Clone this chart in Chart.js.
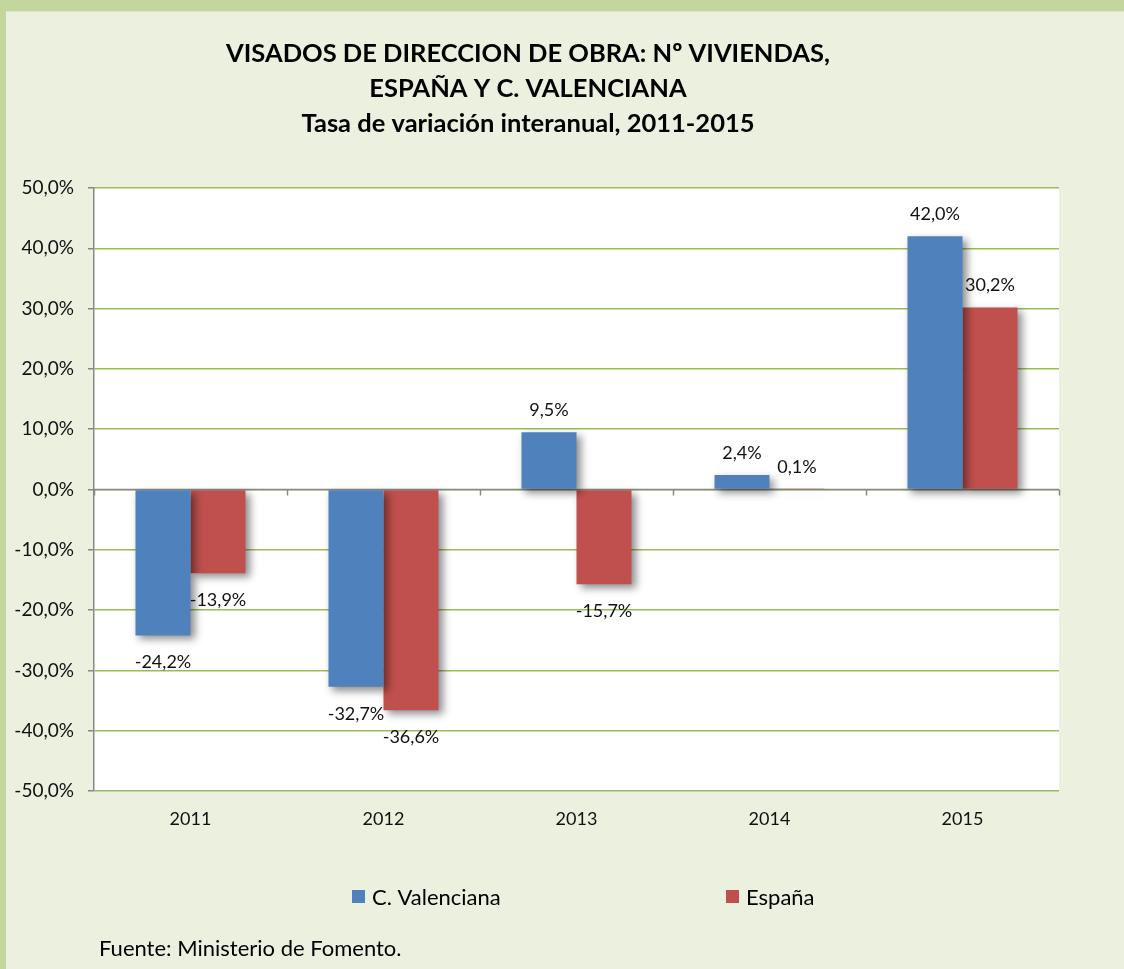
<!DOCTYPE html>
<html lang="es">
<head>
<meta charset="utf-8">
<title>Visados de dirección de obra</title>
<script src="https://cdn.jsdelivr.net/npm/chart.js@4.4.1/dist/chart.umd.min.js"></script>
<style>
    html, body {
        margin: 0;
        padding: 0;
        background: #EBF0DF;
        overflow: hidden;
    }
    #marco {
        width: 1118px;
        height: 958px;
        border-left: 6px solid #C3D69B;
        border-top: 11px solid #C3D69B;
        background: #EBF0DF;
        box-shadow: inset 0 1px 0 #DCE4CC;
    }
    canvas {
        display: block;
    }
</style>
</head>
<body>
<div id="marco">
    <canvas id="visadosChart" width="1118" height="958"></canvas>
</div>
<script>
// Datos del gráfico
const anios = ["2011", "2012", "2013", "2014", "2015"];
const cValenciana = [-24.2, -32.7, 9.5, 2.4, 42.0];
const espana = [-13.9, -36.6, -15.7, 0.1, 30.2];
const ticksY = [-50, -40, -30, -20, -10, 0, 10, 20, 30, 40, 50];

const tituloLineas = [
    "VISADOS DE DIRECCION DE OBRA: Nº VIVIENDAS,",
    "ESPAÑA Y C. VALENCIANA",
    "Tasa de variación interanual, 2011-2015"
];
const fuente = "Fuente: Ministerio de Fomento.";

const AZUL = "#4F81BD";
const ROJO = "#C0504D";
const VERDE = "#9BBB59";
const GRIS = "#878787";
const FUENTE = "Lato, 'Open Sans', sans-serif";

function formatoPct(v) {
    return v.toFixed(1).replace(".", ",") + "%";
}

// Fondo blanco del área de trazado
const fondoArea = {
    id: "fondoArea",
    beforeDraw(chart) {
        const { ctx, chartArea: a } = chart;
        ctx.save();
        ctx.fillStyle = "#FFFFFF";
        ctx.fillRect(a.left, a.top, a.right - a.left, a.bottom - a.top);
        ctx.restore();
    }
};

// Eje en el cero, sombra de las barras y etiquetas de datos
const barrasExtra = {
    id: "barrasExtra",
    beforeDatasetsDraw(chart) {
        const { ctx, chartArea: a, scales } = chart;
        const y0 = scales.y.getPixelForValue(0);
        const mitad = (scales.x.getPixelForValue(1) - scales.x.getPixelForValue(0)) / 2;

        ctx.save();
        ctx.strokeStyle = GRIS;
        ctx.lineWidth = 1.5;
        ctx.beginPath();
        ctx.moveTo(a.left, y0);
        ctx.lineTo(a.right, y0);
        for (let i = 0; i <= anios.length; i++) {
            const x = Math.round(scales.x.getPixelForValue(i) - mitad) + 0.5;
            ctx.moveTo(x, y0);
            ctx.lineTo(x, y0 + 6);
        }
        ctx.stroke();
        ctx.restore();

        // sombra suave como en Excel
        ctx.save();
        ctx.shadowColor = "rgba(0, 0, 0, 0.45)";
        ctx.shadowBlur = 8;
        ctx.shadowOffsetX = 4;
        ctx.shadowOffsetY = 4;
    },
    afterDatasetsDraw(chart) {
        const { ctx } = chart;
        ctx.restore();

        ctx.save();
        ctx.font = "18px " + FUENTE;
        ctx.fillStyle = "#111111";
        ctx.textAlign = "center";
        ctx.textBaseline = "alphabetic";
        chart.data.datasets.forEach((ds, i) => {
            const meta = chart.getDatasetMeta(i);
            meta.data.forEach((bar, j) => {
                const v = ds.data[j];
                const y = v >= 0 ? bar.y - 16 : bar.y + 33;
                ctx.fillText(formatoPct(v), bar.x, y);
            });
        });
        ctx.restore();
    }
};

// Título, leyenda y fuente
const textos = {
    id: "textos",
    afterDraw(chart) {
        const { ctx, chartArea: a } = chart;
        ctx.save();
        ctx.fillStyle = "#000000";

        ctx.font = "bold 25.5px " + FUENTE;
        ctx.textAlign = "center";
        ctx.textBaseline = "alphabetic";
        const base = [51, 86, 121];
        tituloLineas.forEach((t, i) => ctx.fillText(t, 522, base[i]));

        // leyenda
        ctx.font = "22px " + FUENTE;
        ctx.textAlign = "left";
        const posLeyenda = [a.left + 258, a.left + 632];
        chart.data.datasets.forEach((ds, i) => {
            const x = posLeyenda[i];
            ctx.fillStyle = ds.backgroundColor;
            ctx.fillRect(x, 879, 13, 13);
            ctx.fillStyle = "#000000";
            ctx.fillText(ds.label, x + 20, 894);
        });

        ctx.font = "22px " + FUENTE;
        ctx.fillText(fuente, 93, 945);
        ctx.restore();
    }
};

const ctx = document.getElementById("visadosChart").getContext("2d");
new Chart(ctx, {
    type: "bar",
    data: {
        labels: anios,
        datasets: [{
            label: "C. Valenciana",
            data: cValenciana,
            backgroundColor: AZUL,
            borderWidth: 0
        }, {
            label: "España",
            data: espana,
            backgroundColor: ROJO,
            borderWidth: 0
        }]
    },
    options: {
        responsive: false,
        animation: false,
        categoryPercentage: 0.57,
        barPercentage: 1.0,
        layout: {
            padding: { top: 177, right: 65, bottom: 0, left: 0 }
        },
        plugins: {
            legend: { display: false },
            title: { display: false },
            tooltip: { enabled: false }
        },
        scales: {
            x: {
                grid: { display: false, drawTicks: false },
                border: { display: false },
                ticks: {
                    color: "#111111",
                    font: { family: FUENTE, size: 18 },
                    padding: 17
                },
                afterFit(scale) {
                    scale.height = 178;
                }
            },
            y: {
                min: -50,
                max: 50,
                afterBuildTicks(scale) {
                    scale.ticks = ticksY.map(v => ({ value: v }));
                },
                grid: {
                    color: VERDE,
                    lineWidth: 1.5,
                    tickColor: GRIS,
                    tickLength: 6,
                    tickWidth: 1.5
                },
                border: { color: GRIS, width: 1.5 },
                ticks: {
                    color: "#111111",
                    font: { family: FUENTE, size: 19 },
                    padding: 14,
                    callback: v => formatoPct(v)
                },
                afterFit(scale) {
                    scale.width = 88;
                }
            }
        }
    },
    plugins: [fondoArea, barrasExtra, textos]
});
</script>
</body>
</html>
